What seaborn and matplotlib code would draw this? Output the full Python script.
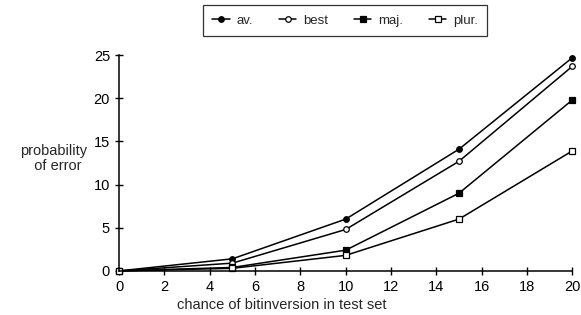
import pandas as pd
import matplotlib.pyplot as plt
import seaborn as sns

# chance of bitinversion (%) and error probability per voting scheme
x_vals = [0, 5, 10, 15, 20]
av = [0, 1.4, 6.0, 14.1, 24.7]
best = [0, 0.9, 4.8, 12.7, 23.7]
maj = [0, 0.4, 2.4, 9.0, 19.8]
plur = [0, 0.3, 1.8, 6.0, 13.9]

series = {'av.': av, 'best': best, 'maj.': maj, 'plur.': plur}
styles = {
    'av.': dict(marker='o', markerfacecolor='black', markersize=4),
    'best': dict(marker='o', markerfacecolor='white', markersize=4),
    'maj.': dict(marker='s', markerfacecolor='black', markersize=4.5),
    'plur.': dict(marker='s', markerfacecolor='white', markersize=4.5),
}

sns.set_style('ticks')
plt.rcParams['font.family'] = ['Liberation Sans', 'DejaVu Sans']

fig = plt.figure(figsize=(5.81, 3.15), dpi=100)
ax = fig.add_axes([0.205, 0.14, 0.78, 0.685])

for name, vals in series.items():
    df = pd.DataFrame({'x': x_vals, 'y': vals})
    sns.lineplot(data=df, x='x', y='y', ax=ax, color='black', linewidth=1.1,
                 markeredgecolor='black', markeredgewidth=0.9, label=name,
                 clip_on=False, **styles[name])

ax.set_xlim(0, 20)
ax.set_ylim(0, 25)
ax.set_xticks(range(0, 21, 2))
ax.set_yticks(range(0, 26, 5))
sns.despine(ax=ax)
for s in ['left', 'bottom']:
    ax.spines[s].set_linewidth(1.1)
    ax.spines[s].set_color('black')
ax.tick_params(direction='inout', length=6, width=1, labelsize=10.5, colors='black')

ax.set_xlabel('chance of bitinversion in test set', fontsize=10.5)
ax.xaxis.set_label_coords(0.36, -0.125)
ax.set_ylabel('probability\n  of error', fontsize=10.5, rotation=0,
              ha='center', va='center', linespacing=1.1)
ax.yaxis.set_label_coords(-0.145, 0.52)

ax.legend(loc='center', bbox_to_anchor=(0.594, 0.935), bbox_transform=fig.transFigure,
          ncol=4, frameon=True, fancybox=False, edgecolor='black', fontsize=9.5,
          handlelength=1.3, columnspacing=2.0, handletextpad=0.5,
          borderpad=0.7, borderaxespad=0)
ax.get_legend().get_frame().set_linewidth(0.9)

fig.savefig('out.png', dpi=100)
